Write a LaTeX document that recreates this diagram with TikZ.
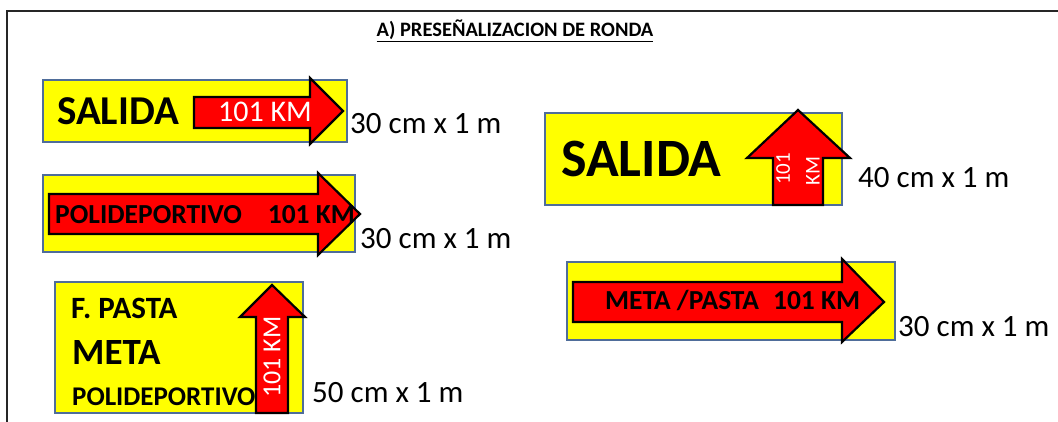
\documentclass[tikz,border=0pt]{standalone}
\usepackage{fontspec}
\setmainfont{Carlito}
\definecolor{signyellow}{RGB}{255,255,0}
\definecolor{signred}{RGB}{255,0,0}
\definecolor{signborder}{RGB}{79,109,154}
\newcommand{\myfs}[1]{\fontsize{#1}{#1}\selectfont}
\tikzset{
  panel/.style={fill=signyellow, draw=signborder, line width=1.8pt},
  redarrow/.style={fill=signred, draw=black, line width=2.2pt, line join=miter},
  txt/.style={inner sep=0pt, anchor=base west},
  dim/.style={inner sep=0pt, anchor=base west, font=\myfs{31}},
}
\begin{document}
\begin{tikzpicture}[x=1pt,y=-1pt]
\useasboundingbox (0,0) rectangle (1058,422);
% frame
\draw[line width=2pt, black!85] (7,422) -- (7,11) -- (1058,11);
% title
\node[inner sep=0pt, anchor=base] (title) at (515,37) {\myfs{20.5}\bfseries\underline{A) PRESEÑALIZACION DE RONDA}};

% sign 1
\path[panel] (43,80) rectangle (347,142);
\path[redarrow] (194,97) -- (310,97) -- (310,78) -- (343,111) -- (310,144) -- (310,128) -- (194,128) -- cycle;
\node[txt] (s1a) at (57,125) {\myfs{41}\bfseries SALIDA};
\node[txt, text=white] (s1b) at (218,122) {\myfs{30}101 KM};
\node[dim] (d1) at (350,134) {30 cm x 1 m};

% sign 2
\path[panel] (43,175) rectangle (355,252);
\path[redarrow] (49,194) -- (318,194) -- (318,173) -- (360,214) -- (318,255) -- (318,234) -- (49,234) -- cycle;
\node[txt] (s2a) at (55,224) {\myfs{27.5}\bfseries POLIDEPORTIVO\hspace{26pt}101 KM};
\node[dim] (d2) at (360,249) {30 cm x 1 m};

% sign 3
\path[panel] (55,282) rectangle (303,413);
\path[redarrow] (256,413) -- (256,317) -- (240,317) -- (272,285) -- (305,317) -- (288,317) -- (288,413) -- cycle;
\node[txt] (s3a) at (71,318) {\myfs{31}\bfseries F. PASTA};
\node[txt] (s3b) at (72,364) {\myfs{37}\bfseries META};
\node[txt] (s3c) at (72,405) {\myfs{27}\bfseries POLIDEPORTIVO};
\node[inner sep=0pt, rotate=90, text=white] (s3d) at (272,357) {\myfs{26}101 KM};
\node[dim] (d3) at (312,402) {50 cm x 1 m};

% sign 4
\path[panel] (545,113) rectangle (842,205);
\path[redarrow] (773,205) -- (773,158) -- (747,158) -- (798,110) -- (850,158) -- (823,158) -- (823,205) -- cycle;
\node[txt] (s4a) at (561,177) {\myfs{54}\bfseries SALIDA};
\node[inner sep=0pt, rotate=90, text=white] (s4b) at (783,169) {\myfs{21}101};
\node[inner sep=0pt, rotate=90, text=white] (s4c) at (813,171) {\myfs{21}KM};
\node[dim] (d4) at (858,188) {40 cm x 1 m};

% sign 5
\path[panel] (567,262) rectangle (895,340);
\path[redarrow] (573,282) -- (842,282) -- (842,259) -- (884,302) -- (842,342) -- (842,322) -- (573,322) -- cycle;
\node[txt] (s5a) at (605,309) {\myfs{27.5}\bfseries META /PASTA\hspace{14pt}101 KM};
\node[dim] (d5) at (898,336) {30 cm x 1 m};
\end{tikzpicture}
\end{document}
